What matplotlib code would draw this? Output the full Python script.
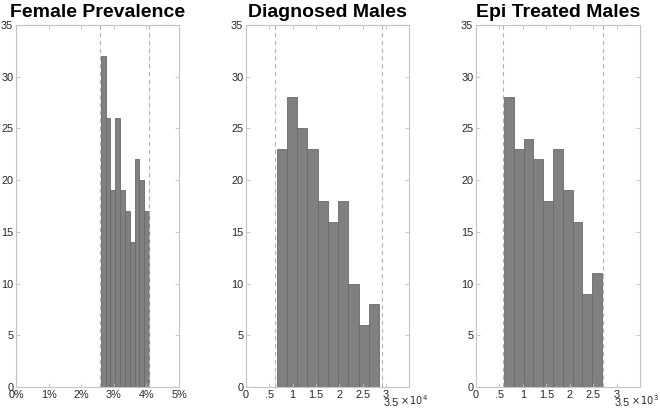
import numpy as np
import matplotlib
matplotlib.use('Agg')
import matplotlib.pyplot as plt

plt.rcParams['font.family'] = ['Liberation Sans', 'DejaVu Sans']

# histogram counts, bin range and dashed bound lines for each panel
titles = ['Female Prevalence', 'Diagnosed Males', 'Epi Treated Males']

fem_counts = [32, 26, 19, 26, 19, 17, 14, 22, 20, 17]
fem_bins = [2.6, 4.08]          # percent
fem_bounds = [2.59, 4.09]

diag_counts = [23, 28, 25, 23, 18, 16, 18, 10, 6, 8]
diag_bins = [0.657, 2.85]       # x 10^4
diag_bounds = [0.62, 2.92]

epi_counts = [28, 23, 24, 22, 18, 23, 19, 16, 9, 11]
epi_bins = [0.598, 2.69]        # x 10^3
epi_bounds = [0.583, 2.72]

fem_ticks = [0, 1, 2, 3, 4, 5]
fem_ticklabels = ['0%', '1%', '2%', '3%', '4%', '5%']
male_ticks = [0, 0.5, 1, 1.5, 2, 2.5, 3]
male_ticklabels = ['0', '.5', '1', '1.5', '2', '2.5', '3']
y_ticks = [0, 5, 10, 15, 20, 25, 30, 35]

fig = plt.figure(figsize=(6.6, 4.09), dpi=100)

lefts = [16/660, 246/660, 476/660]
widths = [163/660, 163.3/660, 164/660]
bottom = 1 - 387/409
height = 362/409

panels = [
    (fem_counts, fem_bins, fem_bounds, 5, fem_ticks, fem_ticklabels, None),
    (diag_counts, diag_bins, diag_bounds, 3.5, male_ticks, male_ticklabels, '4'),
    (epi_counts, epi_bins, epi_bounds, 3.5, male_ticks, male_ticklabels, '3'),
]

for i, (counts, bins, bounds, xmax, xt, xtl, expo) in enumerate(panels):
    ax = fig.add_axes([lefts[i], bottom, widths[i], height])
    edges = np.linspace(bins[0], bins[1], len(counts) + 1)
    ax.bar(edges[:-1], counts, width=np.diff(edges), align='edge',
           color='#808080', edgecolor='#6a6a6a', linewidth=0.6)
    for b in bounds:
        ax.axvline(b, color='#b4b4b4', linestyle=(0, (4, 3)), linewidth=0.8)
    ax.set_xlim(0, xmax)
    ax.set_ylim(0, 35)
    ax.set_xticks(xt)
    ax.set_xticklabels(xtl)
    ax.set_yticks(y_ticks)
    ax.tick_params(direction='in', length=3, width=0.6, color='#c0c0c0',
                   labelsize=7.8, labelcolor='#262626', pad=2,
                   top=True, right=True)
    for s in ax.spines.values():
        s.set_color('#c4c4c4')
        s.set_linewidth(0.8)
    ax.set_title(titles[i], fontsize=14, fontweight='bold', pad=6)
    if expo:
        ax.text(0.89, -0.045, '3.5', transform=ax.transAxes, fontsize=7.8,
                color='#262626', ha='center', va='center')
        ax.text(0.945, -0.036, r'$\times\,10^{%s}$' % expo, transform=ax.transAxes,
                fontsize=7, color='#262626', ha='left', va='center')

fig.savefig('out.png', dpi=100)
